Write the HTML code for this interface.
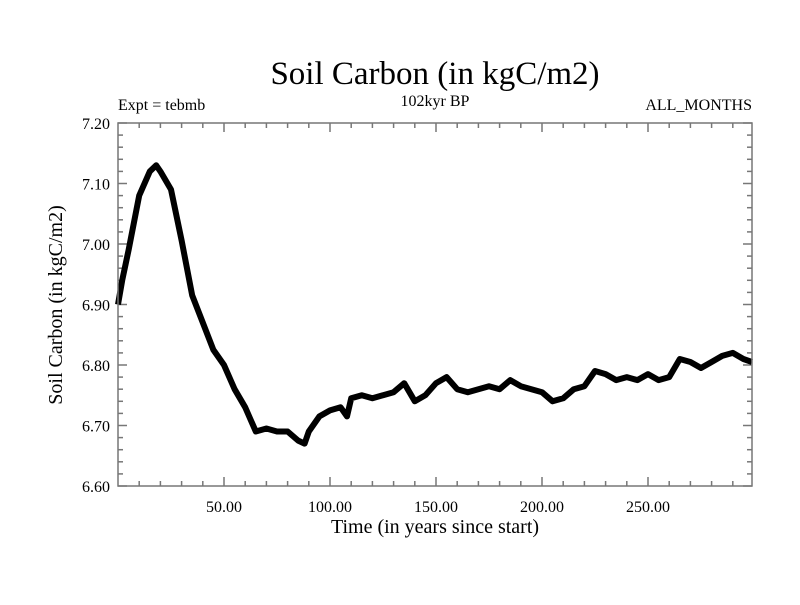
<!DOCTYPE html>
<html><head><meta charset="utf-8"><style>
body{margin:0;background:#fff}
svg text{font-family:"Liberation Serif",serif;fill:#000}
</style></head><body>
<svg width="800" height="600">
<text x="435" y="84" font-size="33" text-anchor="middle">Soil Carbon (in kgC/m2)</text>
<text x="118" y="110" font-size="16">Expt = tebmb</text>
<text x="435" y="106" font-size="16" text-anchor="middle">102kyr BP</text>
<text x="752" y="110" font-size="16" text-anchor="end">ALL_MONTHS</text>
<text transform="translate(62,305) rotate(-90)" font-size="20" text-anchor="middle">Soil Carbon (in kgC/m2)</text>
<text x="435" y="533" font-size="20" text-anchor="middle">Time (in years since start)</text>
<g id="ticks"></g>
<path id="series" fill="none" stroke="#000" stroke-width="6" stroke-linejoin="round"/>
<rect x="118" y="123" width="634" height="363" fill="none" stroke="#777" stroke-width="1.5"/>
</svg>
<script>
const years=[0,2,5,10,15,18,20,25,30,35,40,45,50,55,60,65,70,75,80,85,88,90,95,100,105,108,110,115,120,125,130,135,140,145,150,155,160,165,170,175,180,185,190,195,200,205,210,215,220,225,230,235,240,245,250,255,260,265,270,275,280,285,290,295,299];
const values=[6.90,6.94,6.99,7.08,7.12,7.13,7.12,7.09,7.006,6.915,6.87,6.825,6.80,6.76,6.73,6.69,6.695,6.69,6.69,6.675,6.67,6.69,6.715,6.725,6.73,6.715,6.745,6.75,6.745,6.75,6.755,6.77,6.74,6.75,6.77,6.78,6.76,6.755,6.76,6.765,6.76,6.775,6.765,6.76,6.755,6.74,6.745,6.76,6.765,6.79,6.785,6.775,6.78,6.775,6.785,6.775,6.78,6.81,6.805,6.795,6.805,6.815,6.82,6.81,6.805];
const xTicks=[50,100,150,200,250];
const yTicks=[6.60,6.70,6.80,6.90,7.00,7.10,7.20];
const X=v=>118+v*2.12, Y=v=>486-(v-6.6)*605;
const ns="http://www.w3.org/2000/svg", g=document.getElementById('ticks');
function line(x1,y1,x2,y2,name){const l=document.createElementNS(ns,'line');
l.setAttribute('x1',x1);l.setAttribute('y1',y1);l.setAttribute('x2',x2);l.setAttribute('y2',y2);
l.setAttribute('stroke','#777');l.setAttribute('stroke-width','1.5');


g.appendChild(l);}
function text(x,y,s,anchor,name){const t=document.createElementNS(ns,'text');
t.setAttribute('x',x);t.setAttribute('y',y);t.setAttribute('font-size','16');t.setAttribute('text-anchor',anchor);t.textContent=s;


g.appendChild(t);}
for(let v=10;v<300;v+=10){const big=v%50===0,x=X(v);
line(x,486,x,486-(big?9:5),'x-tick');line(x,123,x,123+(big?9:5),'x-tick-top');}
xTicks.forEach(v=>text(X(v),512,v.toFixed(2),'middle','x-tick-label'));
for(let i=0;i<=30;i++){const v=6.6+i*0.02,y=Y(v),big=i%5===0;
line(118,y,118+(big?9:5),y,'y-tick');line(752,y,752-(big?9:5),y,'y-tick-right');}
yTicks.forEach(v=>text(110,Y(v)+6,v.toFixed(2),'end','y-tick-label'));
document.getElementById('series').setAttribute('d',years.map((y,i)=>(i?'L':'M')+X(y).toFixed(1)+','+Y(values[i]).toFixed(1)).join(''));
</script>
</body></html>
